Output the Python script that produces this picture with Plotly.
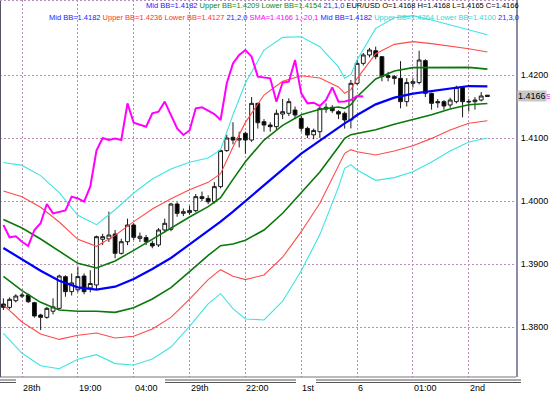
import plotly.graph_objects as go

# ---------------- data ----------------
# H1 EUR/USD candles, bar index 0..78
opens = [1.38365, 1.38312, 1.38418, 1.38490, 1.38508, 1.38386, 1.38190, 1.38153, 1.38250, 1.38296,
         1.38799, 1.38561, 1.38590, 1.38809, 1.38620, 1.38667, 1.39392, 1.39400, 1.39476, 1.39169,
         1.39354, 1.39619, 1.39407, 1.39420, 1.39328, 1.39302, 1.39540, 1.39550, 1.39952, 1.39804,
         1.39815, 1.39847, 1.40069, 1.40040, 1.39989, 1.40228, 1.40800, 1.41011, 1.40968, 1.41074,
         1.40968, 1.41550, 1.41259, 1.41206, 1.41180, 1.41380, 1.41392, 1.41444, 1.41312, 1.41153,
         1.41050, 1.41100, 1.41460, 1.41487, 1.41418, 1.41392, 1.41286, 1.41868, 1.42185, 1.42318,
         1.42386, 1.42291, 1.41990, 1.41974, 1.41947, 1.41577, 1.41868, 1.41880, 1.42228, 1.41709,
         1.41577, 1.41577, 1.41524, 1.41577, 1.41804, 1.41570, 1.41577, 1.41603, 1.41680]
highs = [1.38455, 1.38470, 1.38520, 1.38540, 1.38530, 1.38400, 1.38210, 1.38320, 1.38455, 1.38830,
         1.38820, 1.38850, 1.38958, 1.38850, 1.38900, 1.39450, 1.39480, 1.39831, 1.39540, 1.39400,
         1.39720, 1.39650, 1.39500, 1.39460, 1.39370, 1.39570, 1.39720, 1.39970, 1.39980, 1.39880,
         1.39920, 1.40110, 1.40150, 1.40090, 1.40300, 1.40820, 1.41050, 1.41250, 1.41100, 1.41100,
         1.41650, 1.41560, 1.41300, 1.41250, 1.41450, 1.41620, 1.41630, 1.41500, 1.41350, 1.41180,
         1.41150, 1.41500, 1.41550, 1.41520, 1.41440, 1.41420, 1.41921, 1.42238, 1.42350, 1.42430,
         1.42450, 1.42300, 1.42050, 1.42000, 1.42220, 1.41950, 1.41950, 1.42386, 1.42250, 1.41720,
         1.41620, 1.41600, 1.41640, 1.41830, 1.41820, 1.41620, 1.41650, 1.41730, 1.41680]
lows = [1.38270, 1.38280, 1.38390, 1.38460, 1.38380, 1.38150, 1.37952, 1.38130, 1.38200, 1.38280,
        1.38480, 1.38500, 1.38550, 1.38520, 1.38550, 1.38600, 1.39300, 1.39350, 1.39090, 1.39150,
        1.39300, 1.39380, 1.39350, 1.39300, 1.39250, 1.39270, 1.39500, 1.39520, 1.39750, 1.39760,
        1.39780, 1.39820, 1.40000, 1.39950, 1.39960, 1.40200, 1.40780, 1.40900, 1.40850, 1.40750,
        1.40940, 1.41150, 1.41100, 1.41100, 1.41120, 1.41300, 1.41350, 1.41300, 1.41100, 1.41000,
        1.40980, 1.41000, 1.41400, 1.41400, 1.41300, 1.41150, 1.41153, 1.41841, 1.42150, 1.42280,
        1.42250, 1.41900, 1.41900, 1.41850, 1.41471, 1.41500, 1.41800, 1.41850, 1.41650, 1.41450,
        1.41480, 1.41450, 1.41480, 1.41550, 1.41328, 1.41420, 1.41450, 1.41580, 1.41650]
closes = [1.38312, 1.38439, 1.38492, 1.38505, 1.38402, 1.38175, 1.38153, 1.38296, 1.38320, 1.38809,
          1.38561, 1.38700, 1.38800, 1.38561, 1.38690, 1.39434, 1.39434, 1.39460, 1.39169, 1.39354,
          1.39619, 1.39423, 1.39440, 1.39354, 1.39286, 1.39540, 1.39646, 1.39952, 1.39804, 1.39830,
          1.39850, 1.40069, 1.40040, 1.39989, 1.40228, 1.40800, 1.41000, 1.40968, 1.40990, 1.40968,
          1.41550, 1.41243, 1.41206, 1.41180, 1.41392, 1.41418, 1.41577, 1.41365, 1.41153, 1.41048,
          1.41120, 1.41471, 1.41487, 1.41434, 1.41380, 1.41286, 1.41868, 1.42185, 1.42318, 1.42397,
          1.42291, 1.41974, 1.41963, 1.41947, 1.41577, 1.41880, 1.41894, 1.42238, 1.41709, 1.41550,
          1.41561, 1.41508, 1.41603, 1.41804, 1.41577, 1.41580, 1.41603, 1.41667, 1.41660]

# Bollinger (21) middle line and standard deviation, read at these bars
bb_bars = [0, 3, 6, 9, 12, 15, 18, 21, 24, 27, 30, 33, 35, 37, 39, 42, 45, 48, 51, 54,
           55, 56, 57, 60, 63, 66, 69, 72, 75, 78]
bb_mid = [1.39254, 1.39074, 1.38894, 1.38735, 1.38630, 1.38593, 1.38640, 1.38762, 1.38921, 1.39095,
          1.39312, 1.39524, 1.39672, 1.39831, 1.40000, 1.40254, 1.40503, 1.40751, 1.40958, 1.41175,
          1.41233, 1.41291, 1.41365, 1.41534, 1.41640, 1.41704, 1.41746, 1.41794, 1.41825, 1.41820]
bb_sigma = [0.00452, 0.00497, 0.00503, 0.00466, 0.00381, 0.00344, 0.00407, 0.00455, 0.00476, 0.00471,
            0.00434, 0.00386, 0.00381, 0.00513, 0.00624, 0.00714, 0.00698, 0.00619, 0.00497, 0.00318,
            0.00238, 0.00238, 0.00291, 0.00402, 0.00423, 0.00413, 0.00376, 0.00333, 0.00296, 0.00273]

sma_shift = 20  # SMA(1) shifted -20 bars

x_tick_bars = [3, 12, 21, 30, 39, 48, 57, 66, 75]
x_tick_labels = ["28th", "19:00", "04:00", "29th", "22:00", "1st", "6", "01:00", "2nd"]
y_ticks = [1.38, 1.39, 1.40, 1.41, 1.42]
last_price = 1.4166

legend_line1 = [("Mid BB=1.4182", "#2020ff"), ("Upper BB=1.4209 Lower BB=1.4154", "#0a8a0a"),
                ("21,1,0", "#2020ff"), ("EUR/USD O=1.4168 H=1.4168 L=1.4165 C=1.4166", "black")]
legend_line2 = [("Mid BB=1.4182", "#2020ff"), ("Upper BB=1.4236 Lower BB=1.4127", "#ff3030"),
                ("21,2,0", "#2020ff"), ("SMA=1.4166", "#ff00ff"), ("1,-20,1", "#ff00ff"),
                ("Mid BB=1.4182", "#2020ff"), ("Upper BB=1.4264 Lower BB=1.4100", "#30d8d8"),
                ("21,3,0", "#2020ff")]

# ---------------- figure ----------------
W, H = 550, 394
PLOT_W, PLOT_H = 516, 377
X_RANGE = [-0.548, 82.61]
Y_RANGE = [1.372063, 1.431905]
FONT = "Liberation Sans, Arial, sans-serif"


def px_x(px):
    return px / PLOT_W


def px_y(py):
    return 1 - py / PLOT_H


bars = list(range(len(closes)))
fig = go.Figure()

fig.add_trace(go.Candlestick(
    x=bars, open=opens, high=highs, low=lows, close=closes,
    increasing=dict(fillcolor="white", line=dict(color="#1a1a1a", width=1)),
    decreasing=dict(fillcolor="black", line=dict(color="#1a1a1a", width=1)),
    whiskerwidth=0, showlegend=False, hoverinfo="skip"))

band_styles = [
    (3, "#3fe3e3", 1.1),
    (2, "#ff4a4a", 1.1),
    (1, "#0b780b", 1.6),
]
for k, col, w in band_styles:
    for sgn in (1, -1):
        fig.add_trace(go.Scatter(
            x=bb_bars, y=[m + sgn * k * s for m, s in zip(bb_mid, bb_sigma)],
            mode="lines", line=dict(color=col, width=w), showlegend=False, hoverinfo="skip"))

fig.add_trace(go.Scatter(x=bb_bars, y=bb_mid, mode="lines",
                         line=dict(color="#0000ff", width=2.2), showlegend=False, hoverinfo="skip"))

sma_x = bars[:len(closes) - sma_shift]
sma_y = closes[sma_shift:]
fig.add_trace(go.Scatter(x=sma_x, y=sma_y, mode="lines",
                         line=dict(color="#ff00ff", width=2), showlegend=False, hoverinfo="skip"))

GRID = "#b890b8"
fig.update_layout(
    width=W, height=H,
    margin=dict(l=0, r=W - PLOT_W, t=0, b=H - PLOT_H),
    paper_bgcolor="white", plot_bgcolor="white",
    boxgap=0.12,
    showlegend=False,
    xaxis=dict(range=X_RANGE, tickvals=x_tick_bars, showticklabels=False, ticks="",
               showgrid=True, gridcolor=GRID, griddash="2px,2px", gridwidth=1,
               zeroline=False, showline=False, rangeslider=dict(visible=False)),
    yaxis=dict(range=Y_RANGE, side="right", tickvals=y_ticks,
               ticktext=[f"{v:.4f}" for v in y_ticks], ticks="", ticklabelstandoff=1,
               tickfont=dict(family=FONT, size=9, color="black"),
               showgrid=True, gridcolor=GRID, griddash="2px,2px", gridwidth=1,
               zeroline=False, showline=True, linecolor="#8c8ca6", linewidth=2),
)

shapes = []
shapes.append(dict(type="line", xref="paper", yref="paper", x0=0, x1=px_x(516), y0=px_y(377), y1=px_y(377),
                   line=dict(color="#777777", width=1)))
shapes.append(dict(type="line", xref="paper", yref="paper", x0=px_x(0.5), x1=px_x(0.5), y0=0, y1=1,
                   line=dict(color="#555566", width=1)))
shapes.append(dict(type="line", xref="paper", yref="paper", x0=0, x1=1, y0=px_y(0.5), y1=px_y(0.5),
                   line=dict(color=GRID, width=1, dash="2px,2px")))
for a, b in [(0, 16), (165, 296), (316, 521)]:
    for yy in (380, 382.5):
        shapes.append(dict(type="line", xref="paper", yref="paper", x0=px_x(a), x1=px_x(b),
                           y0=px_y(yy), y1=px_y(yy), line=dict(color="#555555", width=1)))
fig.update_layout(shapes=shapes)

ann = []
for b, t in zip(x_tick_bars, x_tick_labels):
    ann.append(dict(x=b, xref="x", y=px_y(388), yref="paper", text=t, showarrow=False,
                    xanchor="left", yanchor="middle", xshift=-1,
                    font=dict(family=FONT, size=9, color="black")))


def legend_html(parts):
    return "&nbsp;".join(f"<span style='color:{c}'>{t}</span>" for t, c in parts)


for yy, parts in [(6, legend_line1), (17, legend_line2)]:
    ann.append(dict(x=px_x(521), xref="paper", y=px_y(yy), yref="paper", text=legend_html(parts),
                    showarrow=False, xanchor="right", yanchor="middle",
                    font=dict(family=FONT, size=7.5, color="black")))

ann.append(dict(x=px_x(517), xref="paper", y=last_price, yref="y", text=f"{last_price:.4f}",
                showarrow=False, xanchor="left", yanchor="middle", bgcolor="#c8c8c8", borderpad=0,
                font=dict(family=FONT, size=9, color="black")))
ann.append(dict(x=px_x(544), xref="paper", y=last_price, yref="y", text="S",
                showarrow=False, xanchor="left", yanchor="middle",
                font=dict(family=FONT, size=8, color="#ff00ff")))
fig.update_layout(annotations=ann)

fig.write_html("out.html")
